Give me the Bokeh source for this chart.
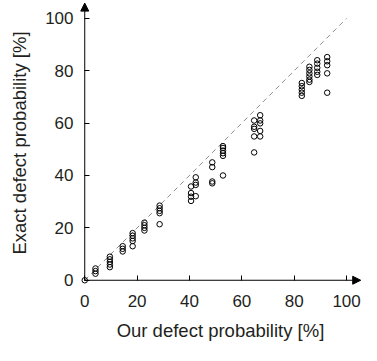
from bokeh.plotting import figure
from bokeh.models import Range1d, FixedTicker, Arrow, NormalHead, ColumnDataSource, LinearAxis
from bokeh.embed import file_html
from bokeh.resources import INLINE

# Data: our defect probability (x, %) and exact defect probability (y, %)
our_levels = [0, 4.1, 9.6, 14.5, 18.3, 22.8, 28.6, 40.6, 42.4, 48.7, 52.8,
              64.7, 67.0, 82.9, 85.8, 88.8, 92.6]
exact_groups = [
    [0],
    [2.5, 3.5, 4.5],
    [5, 6, 7, 8, 9],
    [11, 12, 13],
    [13, 15, 16, 17, 18],
    [19, 20, 21, 22],
    [21.4, 25.6, 26.5, 27.5, 28.5],
    [30.3, 31.9, 33.3, 35.8],
    [32.1, 36.4, 37.3, 39.3],
    [37, 37.7, 43.2, 45],
    [40, 47.5, 48.5, 49.5, 50.5, 51.2],
    [48.8, 54.9, 57.8, 58.6, 61],
    [54.9, 57, 59.9, 61, 63],
    [70.4, 71.6, 72.8, 74.1, 75.3],
    [75.7, 76.6, 77.8, 79, 80.3, 81.5],
    [78.4, 79.6, 81.1, 82.7, 84],
    [71.6, 79, 82.1, 83.6, 85.2],
]
ticks = [0, 20, 40, 60, 80, 100]
diag = [0, 100]
x_axis_end = 105.4
y_axis_end = 105.8

our = []
exact = []
for xv, ys in zip(our_levels, exact_groups):
    for yv in ys:
        our.append(xv)
        exact.append(yv)

src = ColumnDataSource(data=dict(our=our, exact=exact))

FONT = "Liberation Sans"
TXT = "#231f20"

p = figure(width=361, height=345, output_backend="svg", toolbar_location=None,
           x_range=Range1d(-2, 105.7), y_range=Range1d(-2, 106.8),
           min_border_left=79, min_border_right=0, min_border_top=0,
           min_border_bottom=60)
p.outline_line_color = None
p.grid.visible = False
p.background_fill_color = "white"

# label axes at the frame edges (no tick marks)
for ax in (p.xaxis[0], p.yaxis[0]):
    ax.ticker = FixedTicker(ticks=ticks)
    ax.axis_line_color = None
    ax.major_tick_line_color = None
    ax.major_tick_in = 0
    ax.major_tick_out = 0
    ax.minor_tick_line_color = None
    ax.major_label_text_font = FONT
    ax.major_label_text_font_size = "17px"
    ax.major_label_text_color = TXT
    ax.axis_label_text_font = FONT
    ax.axis_label_text_font_size = "18.5px"
    ax.axis_label_text_font_style = "normal"
    ax.axis_label_text_color = TXT

p.xaxis.axis_label = "Our defect probability [%]"
p.yaxis.axis_label = "Exact defect probability [%]"
p.xaxis.major_label_standoff = 9
p.yaxis.major_label_standoff = 6
p.xaxis.axis_label_standoff = 10
p.yaxis.axis_label_standoff = 12

# tick-mark axes placed at data 0 (inward ticks, no labels)
for side in ("left", "below"):
    tax = LinearAxis(fixed_location=0, ticker=FixedTicker(ticks=ticks),
                     axis_line_color=None, major_tick_in=5, major_tick_out=0,
                     major_tick_line_color="black", minor_tick_line_color=None,
                     major_label_text_font_size="1px",
                     major_label_text_color=None, major_label_standoff=0)
    p.add_layout(tax, side)

p.line(diag, diag, line_color="#8c8c8c", line_dash="5 4", line_width=1)

p.add_layout(Arrow(x_start=0, y_start=0, x_end=x_axis_end, y_end=0,
                   line_color="black", line_width=1,
                   end=NormalHead(size=8, fill_color="black", line_color="black")))
p.add_layout(Arrow(x_start=0, y_start=0, x_end=0, y_end=y_axis_end,
                   line_color="black", line_width=1,
                   end=NormalHead(size=8, fill_color="black", line_color="black")))

p.scatter("our", "exact", source=src, marker="circle", size=5.5,
          fill_color=None, line_color="black", line_width=1)

open("out.html", "w").write(file_html(p, INLINE))
